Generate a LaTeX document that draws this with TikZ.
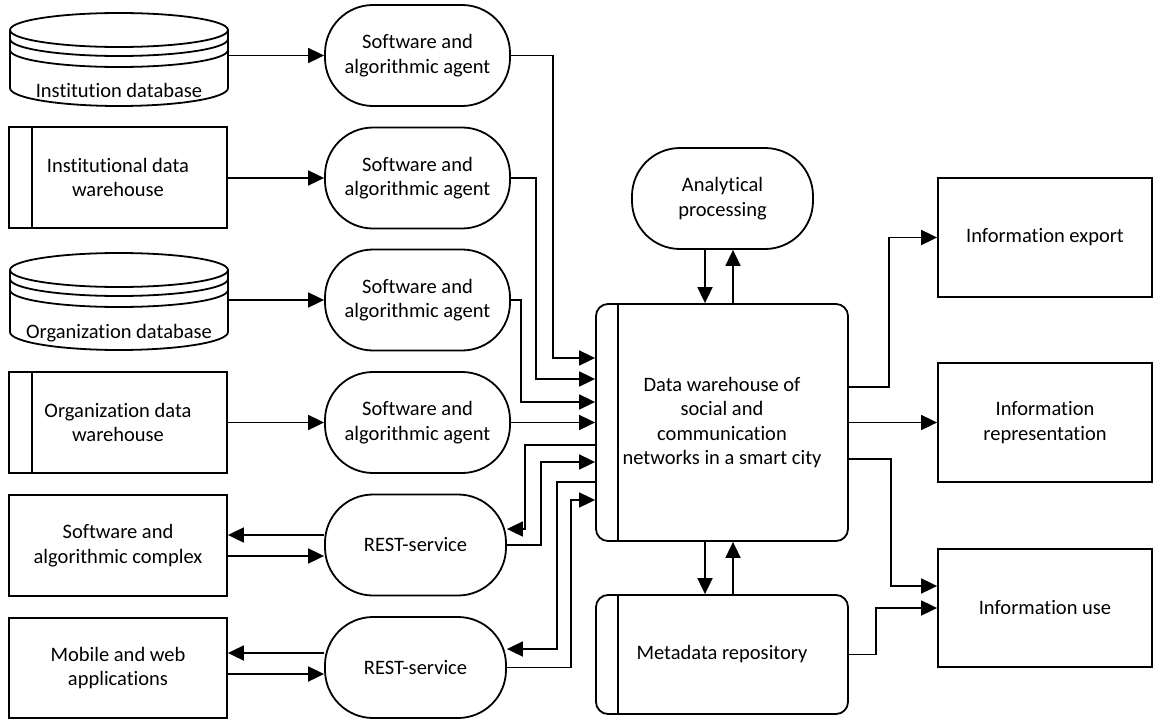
\documentclass[tikz,border=0pt]{standalone}
\usepackage{fontspec}
\setmainfont{Carlito}[Ligatures=NoCommon]
\usetikzlibrary{arrows.meta}
\newcommand\dbcyl[3]{% x-centre, top, bottom
  \draw[line] (#1,#2+17) ellipse [x radius=109, y radius=17];
  \draw[line] (#1-109,#2+17) -- (#1-109,#3-18) arc[start angle=180,end angle=0,x radius=109,y radius=18] -- (#1+109,#2+17);
  \draw[line] (#1-109,#2+26) arc[start angle=180,end angle=0,x radius=109,y radius=17];
  \draw[line] (#1-109,#2+37) arc[start angle=180,end angle=0,x radius=109,y radius=17];
}
\begin{document}
\begin{tikzpicture}[x=1pt,y=-1pt,
  line/.style={line width=1.8pt},
  every node/.style={font=\fontsize{20.5}{24.5}\selectfont, align=center, inner sep=0pt},
  box/.style={draw, line, minimum width=218pt, minimum height=101pt},
  agent/.style={draw, line, rounded corners=48pt, minimum width=185pt, minimum height=101pt},
  rbox/.style={draw, line, rounded corners=12pt},
  obox/.style={draw, line, minimum width=214pt, minimum height=119pt},
  arr/.style={line, -{Triangle[length=16pt,width=15pt]}},
  plain/.style={line}]
\useasboundingbox (0,0) rectangle (1154,720);
\fill[white] (0,0) rectangle (1154,720);

% cylinders
\dbcyl{119}{13}{106}
\node[minimum width=218pt, minimum height=93pt] (db1) at (119,59.5) {};
\node (db1t) at (119,90) {Institution database};
\dbcyl{119}{253}{350}
\node[minimum width=218pt, minimum height=97pt] (db2) at (119,301.5) {};
\node (db2t) at (119,333) {Organization database};

% left boxes
\node[box] (iw) at (118,177.5) {Institutional data\\warehouse};
\draw[line] (iw.north west -| 32,0) -- (iw.south west -| 32,0);
\node[box] (ow) at (118,422.5) {Organization data\\warehouse};
\draw[line] (ow.north west -| 32,0) -- (ow.south west -| 32,0);
\node[box] (sac) at (118,545.5) {Software and\\algorithmic complex};
\node[box, minimum height=100pt] (mob) at (118,668) {Mobile and web\\applications};

% agents
\node[agent] (a1) at (417.5,55.5) {Software and\\algorithmic agent};
\node[agent] (a2) at (417.5,178) {Software and\\algorithmic agent};
\node[agent] (a3) at (417.5,300) {Software and\\algorithmic agent};
\node[agent] (a4) at (417.5,422.5) {Software and\\algorithmic agent};
\node[agent, minimum width=181pt] (r1) at (415.5,545) {REST-service};
\node[agent, minimum width=181pt] (r2) at (415.5,667.5) {REST-service};

% centre
\node[rbox, minimum width=252pt, minimum height=237pt] (dw) at (722,422.5) {Data warehouse of\\social and\\communication\\networks in a smart city};
\draw[line] (dw.north west -| 618,0) -- (dw.south west -| 618,0);
\node[agent, minimum width=181pt] (an) at (722.5,198.5) {Analytical\\processing};
\node[rbox, minimum width=252pt, minimum height=119pt] (meta) at (722,654.5) {Metadata repository};
\draw[line] (meta.north west -| 618,0) -- (meta.south west -| 618,0);

% right
\node[obox] (exp) at (1045,237.5) {Information export};
\node[obox] (rep) at (1045,422.5) {Information\\representation};
\node[obox, minimum height=118pt] (use) at (1045,608) {Information use};

% connectors: sources to agents
\draw[arr] (a1.west -| db1.east) -- (a1.west);
\draw[arr] (iw.east |- a2.west) -- (a2.west);
\draw[arr] (a3.west -| db2.east) -- (a3.west);
\draw[arr] (ow.east) -- (a4.west);

% agents to warehouse
\draw[arr] (a1.east) -| (553,358) -- (dw.west |- 0,358);
\draw[arr] (a2.east) -| (536,379) -- (dw.west |- 0,379);
\draw[arr] (a3.east) -| (521,402) -- (dw.west |- 0,402);
\draw[arr] (a4.east) -- (dw.west);

% REST services
\draw[arr] (dw.west |- 0,445) -| (525,529) -- (r1.east |- 0,529);
\draw[arr] (r1.east) -| (541,462) -- (dw.west |- 0,462);
\draw[arr] (dw.west |- 0,482) -| (557,649) -- (r2.east |- 0,649);
\draw[arr] (r2.east) -| (571,500) -- (dw.west |- 0,500);
\draw[arr] (r1.west |- 0,535) -- (sac.east |- 0,535);
\draw[arr] (sac.east |- 0,556) -- (r1.west |- 0,556);
\draw[arr] (r2.west |- 0,653) -- (mob.east |- 0,653);
\draw[arr] (mob.east |- 0,674) -- (r2.west |- 0,674);

% analytical and metadata
\draw[arr] (an.south -| 705,0) -- (dw.north -| 705,0);
\draw[arr] (dw.north -| 733,0) -- (an.south -| 733,0);
\draw[arr] (dw.south -| 705,0) -- (meta.north -| 705,0);
\draw[arr] (meta.north -| 733,0) -- (dw.south -| 733,0);

% outputs
\draw[arr] (dw.east |- 0,387) -| (889,237.5) -- (exp.west);
\draw[arr] (dw.east) -- (rep.west);
\draw[arr] (dw.east |- 0,459) -| (891,586) -- (use.west |- 0,586);
\draw[arr] (meta.east) -| (876,608) -- (use.west);
\end{tikzpicture}
\end{document}
